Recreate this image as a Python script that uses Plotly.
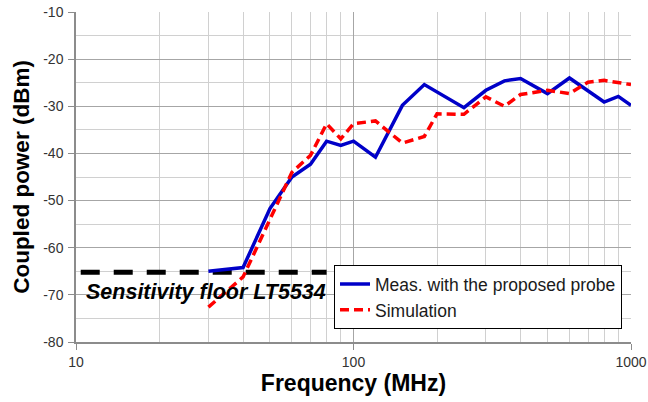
import plotly.graph_objects as go

# ---- data ----
freq_meas = [30, 40, 50, 60, 70, 80, 90, 100, 120, 150, 180, 250, 300, 350, 400, 500, 600, 800, 900, 1000]
meas_dbm = [-65.0, -64.2, -51.7, -45.0, -42.3, -37.4, -38.3, -37.4, -40.8, -29.8, -25.4, -30.3, -26.6, -24.6,
            -24.1, -27.3, -24.0, -29.1, -27.9, -29.8]

freq_sim = [30, 40, 50, 60, 70, 80, 90, 100, 120, 150, 180, 200, 250, 300, 350, 400, 500, 600, 700, 800, 1000]
sim_dbm = [-72.6, -66.2, -54.0, -44.0, -40.4, -33.7, -36.9, -33.7, -33.1, -37.8, -36.4, -31.6, -31.7, -28.0,
           -30.0, -27.5, -26.6, -27.3, -24.9, -24.5, -25.4]

floor_freq = [10.4, 80]
floor_dbm = [-65.2, -65.2]
floor_label = "Sensitivity floor LT5534"

x_ticks = [10, 100, 1000]
x_minor = [20, 30, 40, 50, 60, 70, 80, 90, 200, 300, 400, 500, 600, 700, 800, 900]
y_ticks = [-10, -20, -30, -40, -50, -60, -70, -80]

fig = go.Figure()
fig.add_trace(go.Scatter(x=floor_freq, y=floor_dbm, mode="lines", showlegend=False,
                         line=dict(color="black", width=5, dash="19px,14px")))
fig.add_trace(go.Scatter(x=freq_meas, y=meas_dbm, mode="lines", name="Meas. with the proposed probe",
                         line=dict(color="#0000c8", width=3.5)))
fig.add_trace(go.Scatter(x=freq_sim, y=sim_dbm, mode="lines", name="Simulation",
                         line=dict(color="#ff0000", width=3.5, dash="9px,5px")))

fig.add_annotation(x=0.0144, xref="paper", y=-69.4, yref="y", xanchor="left", yanchor="middle",
                   text=floor_label, showarrow=False,
                   font=dict(family="Liberation Sans, Arial", size=21.5, color="black", weight=700, style="italic"))

fig.update_layout(
    width=648, height=402,
    margin=dict(l=76, r=17, t=12, b=60),
    plot_bgcolor="white", paper_bgcolor="white",
    font=dict(family="Liberation Sans, Arial", size=14, color="#333333"),
    legend=dict(x=0.9838, xanchor="right", y=0.039, yanchor="bottom",
                bgcolor="white", bordercolor="black", borderwidth=1,
                font=dict(family="Liberation Sans, Arial", size=17.5, color="#1a1a1a")),
    xaxis=dict(type="log", range=[1, 3], tickvals=x_ticks, ticktext=[str(v) for v in x_ticks],
               ticks="outside", ticklen=6, tickcolor="#8c8c8c", automargin=False,
               showline=True, linecolor="#8c8c8c", linewidth=1.5,
               showgrid=True, gridcolor="#a6a6a6", gridwidth=1.2,
               minor=dict(tickvals=x_minor, showgrid=True, gridcolor="#d0d0d0", gridwidth=1, ticks=""),
               title=dict(text="<b>Frequency (MHz)</b>", font=dict(size=23, color="black"), standoff=6),
               zeroline=False),
    yaxis=dict(range=[-80, -10], tickvals=y_ticks, ticktext=[str(v) for v in y_ticks],
               ticks="outside", ticklen=6, tickcolor="#8c8c8c", automargin=False, ticklabelstandoff=2,
               showline=True, linecolor="#8c8c8c", linewidth=1.5,
               showgrid=True, gridcolor="#a6a6a6", gridwidth=1.2,
               minor=dict(dtick=5, showgrid=True, gridcolor="#d0d0d0", gridwidth=1, ticks=""),
               title=dict(text="<b>Coupled power (dBm)</b>", font=dict(size=22.5, color="black"), standoff=7),
               zeroline=False),
)

fig.write_html("out.html", config={"displayModeBar": False},
               post_script="document.body.style.margin='0';document.body.style.overflow='hidden';")
